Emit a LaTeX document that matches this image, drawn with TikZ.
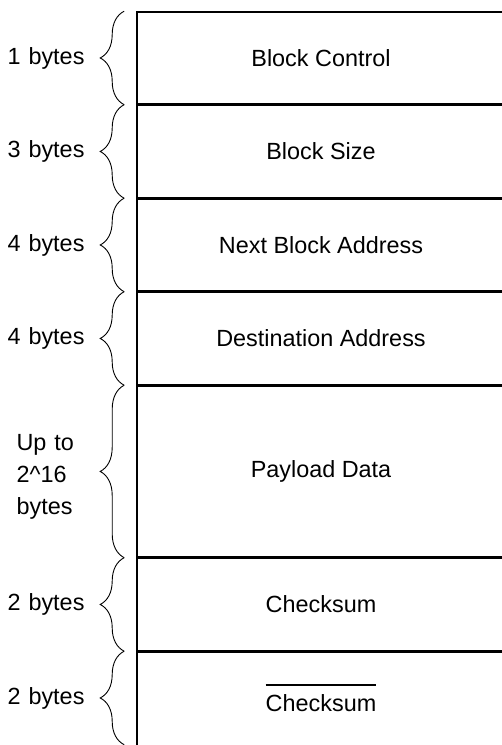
\documentclass[tikz,border=0pt]{standalone}
\usepackage{fontspec}
\setmainfont{Liberation Sans}
\usetikzlibrary{positioning,calc,decorations.pathreplacing}
\tikzset{x=0.5pt, y=-0.5pt}
\tikzstyle{field}=[draw, rectangle, line width=0.8pt, inner sep=0pt, minimum width=184pt, minimum height=45.95pt, node font=\fontsize{11.7}{16}\selectfont]
\tikzstyle{cell}=[field, draw=none]
\tikzstyle{lbl}=[inner sep=0pt, text width=40pt, align=center, node font=\fontsize{11.7}{16}\selectfont]
\tikzstyle{brc}=[decorate, decoration={brace, amplitude=12pt}, line width=0.45pt]
\tikzstyle{wall}=[line width=0.8pt]
\newcommand{\inv}[1]{\vbox{\hrule height 0.65pt\kern 4.5pt\hbox{#1}}}

\begin{document}
\begin{tikzpicture}
        \useasboundingbox (0,0) rectangle (502,745);
        \clip (0,0) rectangle (502,745);
        \node (ctrl) [field] at (321,57.95) {Block Control};
        \node (size) [field, below=0pt of ctrl] {Block Size};
        \node (next) [field, below=0pt of size] {Next Block Address};
        \node (dest) [field, below=0pt of next] {Destination Address};
        \node (data) [field, below=0pt of dest, minimum height=85.45pt] {Payload Data};
        \node (sum) [field, below=0pt of data] {Checksum};
        \node (nsum) [cell, below=0pt of sum] {\inv{Checksum}};
        \draw[wall] ([xshift=0.4pt]sum.south west) -- ([xshift=0.4pt, yshift=-20pt]nsum.south west);
        \draw[wall] ([xshift=0.4pt, yshift=-0.4pt]nsum.north west) -- ([yshift=-0.4pt]nsum.north east);
        % braces
        \foreach \f in {ctrl,size,next,dest,data,sum,nsum}
            \draw[brc] ([xshift=-6pt]\f.south west) -- ([xshift=-6pt]\f.north west);
        % sizes
        \node (lctrl) [lbl, left=24.85pt of ctrl] {1 bytes};
        \node (lsize) [lbl, left=24.85pt of size] {3 bytes};
        \node (lnext) [lbl, left=24.85pt of next] {4 bytes};
        \node (ldest) [lbl, left=24.85pt of dest] {4 bytes};
        \node (ldata) [lbl, left=27.6pt of data, text width=32pt, align=left, yshift=-2.5pt] {Up to\\2\textasciicircum16\\bytes};
        \node (lsum) [lbl, left=24.85pt of sum] {2 bytes};
        \node (lnsum) [lbl, left=24.85pt of nsum] {2 bytes};
\end{tikzpicture}
\end{document}
